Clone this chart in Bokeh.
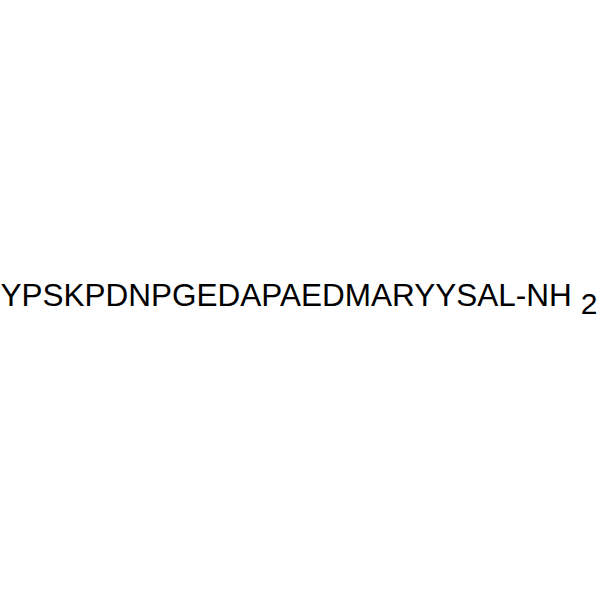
from bokeh.plotting import figure
from bokeh.models import Range1d
from bokeh.embed import file_html
from bokeh.resources import INLINE
from bokeh.core.properties import value

# Data: the peptide label and its subscript
main_label = ["YPSKPDNPGEDAPAEDMARYYSAL-NH"]
sub_label = ["2"]
main_x = [0]
main_y = [294]
sub_x = [597]
sub_y = [303]

W, H = 600, 600
p = figure(width=W, height=H, output_backend="svg", toolbar_location=None,
           x_range=Range1d(0, W), y_range=Range1d(H, 0),
           min_border=0, min_border_left=0, min_border_right=0,
           min_border_top=0, min_border_bottom=0)
p.axis.visible = False
p.grid.visible = False
p.outline_line_color = None
p.background_fill_color = "white"
p.border_fill_color = "white"
p.styles = {"position": "absolute", "left": "0px", "top": "0px"}

p.text(x=main_x, y=main_y, text=main_label, text_font=value("Liberation Sans"),
       text_font_size="31.5px", text_align="left", text_baseline="alphabetic",
       text_color="black")
p.text(x=sub_x, y=sub_y, text=sub_label, text_font=value("Liberation Sans"),
       text_font_size="30px", text_align="right", text_baseline="alphabetic",
       text_color="black")

open("out.html", "w").write(file_html(p, INLINE))
